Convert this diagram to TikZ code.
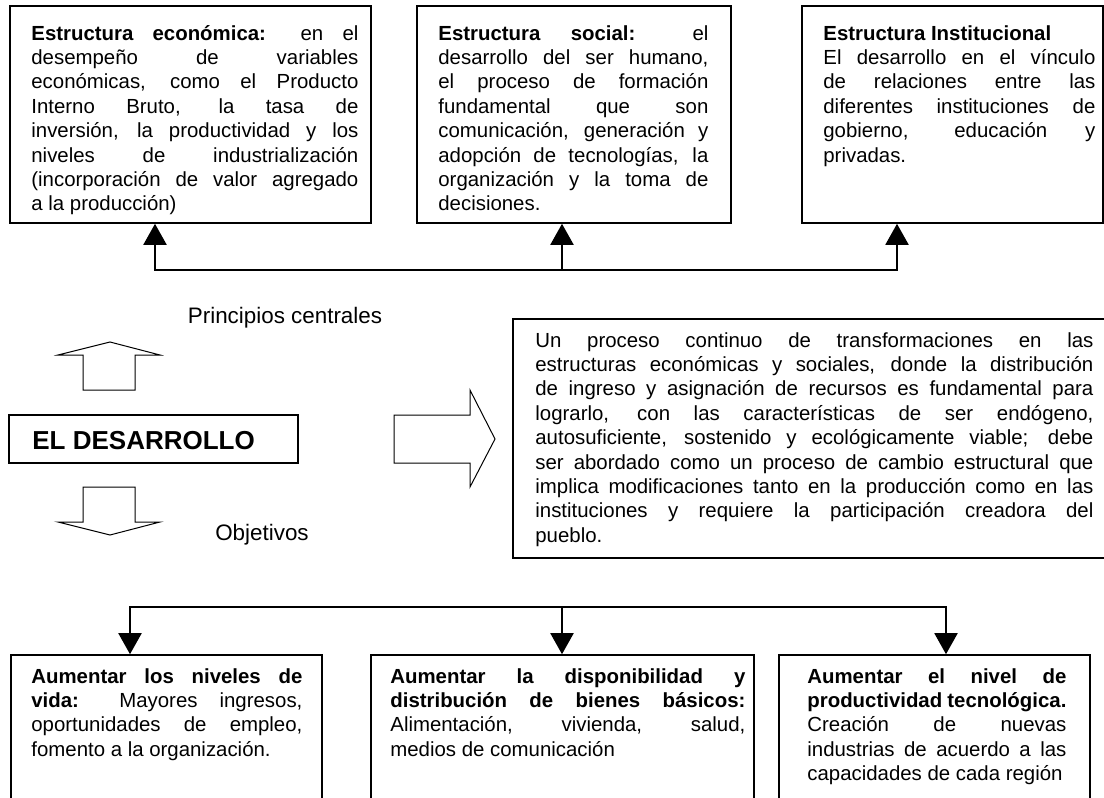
\documentclass[tikz,border=0pt]{standalone}
\usepackage{fontspec}
\setmainfont{Liberation Sans}
\usepackage{tikz}
\usetikzlibrary{positioning, arrows.meta, fit}

\begin{document}
\begin{tikzpicture}[x=0.5pt, y=-0.5pt,
    >={Triangle[length=10.5pt, width=11.5pt]},
    box/.style={draw, line width=0.8pt, inner sep=0pt},
    txt/.style={anchor=base west, inner sep=0pt, align=justify, font=\fontsize{10.2}{12.2}\selectfont},
    lbl/.style={anchor=base, inner sep=0pt, font=\fontsize{11.2}{13}\selectfont},
    link/.style={line width=1pt},
    blockarrow/.style={draw, line width=0.5pt, line join=miter}]

    \useasboundingbox (0,0) rectangle (1104,798);
    \clip (0,0) rectangle (1104,798);

    % Estructuras
    \node[box, fit={(10,6) (371,223)}] (econ) {};
    \node[txt, text width=163.5pt] (econ text) at (31,40) {\textbf{Estructura económica:} en el\linebreak desempeño de variables\linebreak económicas, como el Producto\linebreak Interno Bruto, la tasa de\linebreak inversión, la productividad y los\linebreak niveles de industrialización\linebreak (incorporación de valor agregado\linebreak a la producción)};

    \node[box, fit={(417,6) (731,223)}] (social) {};
    \node[txt, text width=135pt] (social text) at (438,40) {\textbf{Estructura social:} el\linebreak desarrollo del ser humano,\linebreak el proceso de formación\linebreak fundamental que son\linebreak comunicación, generación y\linebreak adopción de tecnologías, la\linebreak organización y la toma de\linebreak decisiones.};

    \node[box, fit={(802,6) (1103,223)}] (inst) {};
    \node[txt, text width=136pt] (inst text) at (823,40) {\textbf{Estructura Institucional}\par El desarrollo en el vínculo\linebreak de relaciones entre las\linebreak diferentes instituciones de\linebreak gobierno, educación y\linebreak privadas.};

    \coordinate (upL) at (155,270);
    \coordinate (upM) at (562,270);
    \coordinate (upR) at (897,270);
    \draw[link, <->] (econ.south -| upL) -- (upL) -- (upR) -- (inst.south -| upR);
    \draw[link, ->] (upM) -- (upM |- social.south);

    % El desarrollo
    \node[lbl] (princ) at (285,323) {Principios centrales};
    \draw[blockarrow] (83,390) -- (83,355) -- (58,355) -- (110,342) -- (160,355) -- (135,355) -- (135,390) -- cycle;

    \node[box, fit={(9,415) (298,463)}] (des) {};
    \node[anchor=base west, inner sep=0pt, font=\fontsize{13}{15}\selectfont\bfseries] (des text) at (32,449) {EL DESARROLLO};

    \draw[blockarrow] (83,487) -- (83,522) -- (58,522) -- (110,535) -- (160,522) -- (135,522) -- (135,487) -- cycle;
    \node[lbl] (obj) at (262,540) {Objetivos};

    \draw[blockarrow] (394,415) -- (470,415) -- (470,390) -- (495,439) -- (470,487) -- (470,463) -- (394,463) -- cycle;

    % Definicion
    \node[box, fit={(513,319) (1112,558)}] (proc) {};
    \node[txt, text width=279pt] (proc text) at (535,347) {Un proceso continuo de transformaciones en las\linebreak estructuras económicas y sociales, donde la distribución\linebreak de ingreso y asignación de recursos es fundamental para\linebreak lograrlo, con las características de ser endógeno,\linebreak autosuficiente, sostenido y ecológicamente viable; debe\linebreak ser abordado como un proceso de cambio estructural que\linebreak implica modificaciones tanto en la producción como en las\linebreak instituciones y requiere la participación creadora del\linebreak pueblo.};

    % Objetivos
    \node[box, fit={(11,655) (322,820)}] (vida) {};
    \node[txt, text width=135.5pt] (vida text) at (31,683) {\textbf{Aumentar los niveles de}\linebreak \textbf{vida:} Mayores ingresos,\linebreak oportunidades de empleo,\linebreak fomento a la organización.};

    \node[box, fit={(371,655) (754,820)}] (bienes) {};
    \node[txt, text width=177.5pt] (bienes text) at (390,683) {\textbf{Aumentar la disponibilidad y}\linebreak \textbf{distribución de bienes básicos:}\linebreak Alimentación, vivienda, salud,\linebreak medios de comunicación};

    \node[box, fit={(779,655) (1090,820)}] (tecno) {};
    \node[txt, text width=129.5pt] (tecno text) at (807,683) {\textbf{Aumentar el nivel de}\linebreak \textbf{productividad tecnológica.}\linebreak Creación de nuevas\linebreak industrias de acuerdo a las\linebreak capacidades de cada región};

    \coordinate (dnL) at (130,607);
    \coordinate (dnM) at (562,607);
    \coordinate (dnR) at (946,607);
    \draw[link, <->] (vida.north -| dnL) -- (dnL) -- (dnR) -- (tecno.north -| dnR);
    \draw[link, ->] (dnM) -- (dnM |- bienes.north);
\end{tikzpicture}
\end{document}
